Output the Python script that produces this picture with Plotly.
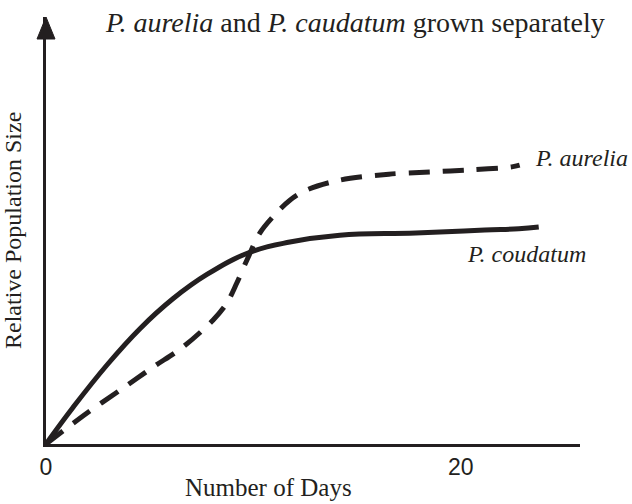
import plotly.graph_objects as go

# Data
days_caudatum = [0, 1.30, 2.94, 4.53, 6.12, 7.76, 9.83, 11.76, 14.17, 17.83, 21.16, 22.80, 23.76]
size_caudatum = [0, 8.55, 18.5, 27.0, 34.0, 39.7, 44.9, 47.3, 48.9, 49.4, 50.1, 50.4, 50.8]

days_aurelia = [0, 1.98, 3.57, 5.16, 6.60, 8.05, 8.72, 9.20, 9.69, 10.31, 10.94, 11.76,
                12.58, 14.17, 16.53, 18.51, 20.48, 22.46, 22.84]
size_aurelia = [0, 7.26, 12.6, 18.0, 22.7, 29.0, 33.0, 37.7, 43.1, 49.4, 53.2, 57.1,
                59.5, 61.8, 63.2, 63.7, 64.2, 64.9, 65.3]

tick_vals = [0, 20]
tick_text = ["0", "20"]

INK = "#231f20"
SERIF = "Liberation Serif"

fig = go.Figure()
fig.add_trace(go.Scatter(
    x=days_caudatum, y=size_caudatum, mode="lines",
    line=dict(color=INK, width=5, shape="spline", smoothing=1.2),
    showlegend=False, hoverinfo="skip"))
fig.add_trace(go.Scatter(
    x=days_aurelia, y=size_aurelia, mode="lines",
    line=dict(color=INK, width=5, dash="21px,13px", shape="spline", smoothing=0.9),
    showlegend=False, hoverinfo="skip"))

# arrowhead on the y axis (paper-referenced so it is not clipped)
fig.add_shape(type="path", xref="paper", yref="paper", xsizemode="pixel", ysizemode="pixel",
              xanchor=0, yanchor=1, path="M0,0 L-9,-22 L9,-22 Z",
              fillcolor=INK, line=dict(color=INK, width=1))

fig.add_annotation(x=0.5787, y=0.988, xref="paper", yref="paper",
                   text="<i>P. aurelia</i> and <i>P. caudatum</i> grown separately",
                   showarrow=False, xanchor="center", yanchor="middle",
                   font=dict(family=SERIF, size=28, color=INK))
fig.add_annotation(x=1.0019, y=0.670, xref="paper", yref="paper", text="<i>P. aurelia</i>",
                   showarrow=False, xanchor="center", yanchor="middle",
                   font=dict(family=SERIF, size=24, color=INK))
fig.add_annotation(x=0.9007, y=0.445, xref="paper", yref="paper", text="<i>P. coudatum</i>",
                   showarrow=False, xanchor="center", yanchor="middle",
                   font=dict(family=SERIF, size=24, color=INK))
fig.add_annotation(x=0.4176, y=-0.1019, xref="paper", yref="paper", text="Number of Days",
                   showarrow=False, xanchor="center", yanchor="middle",
                   font=dict(family=SERIF, size=25, color=INK))
fig.add_annotation(x=-0.062, y=0.501, xref="paper", yref="paper",
                   text="Relative Population Size", textangle=-90,
                   showarrow=False, xanchor="center", yanchor="middle",
                   font=dict(family=SERIF, size=24, color=INK))

fig.update_xaxes(range=[0, 25.75], showgrid=False, zeroline=False, showline=True,
                 linecolor=INK, linewidth=3, ticks="", tickvals=tick_vals, ticktext=tick_text,
                 tickfont=dict(family="Liberation Sans", size=23, color=INK))
fig.update_yaxes(range=[0, 100], showgrid=False, zeroline=False, showline=True,
                 linecolor=INK, linewidth=2.5, ticks="", showticklabels=False)

fig.update_layout(width=632, height=504, margin=dict(l=46, r=52, t=17, b=60),
                  plot_bgcolor="white", paper_bgcolor="white")

fig.write_html("out.html", config={"displayModeBar": False},
               post_script="document.body.style.margin='0';document.body.style.padding='0';")
